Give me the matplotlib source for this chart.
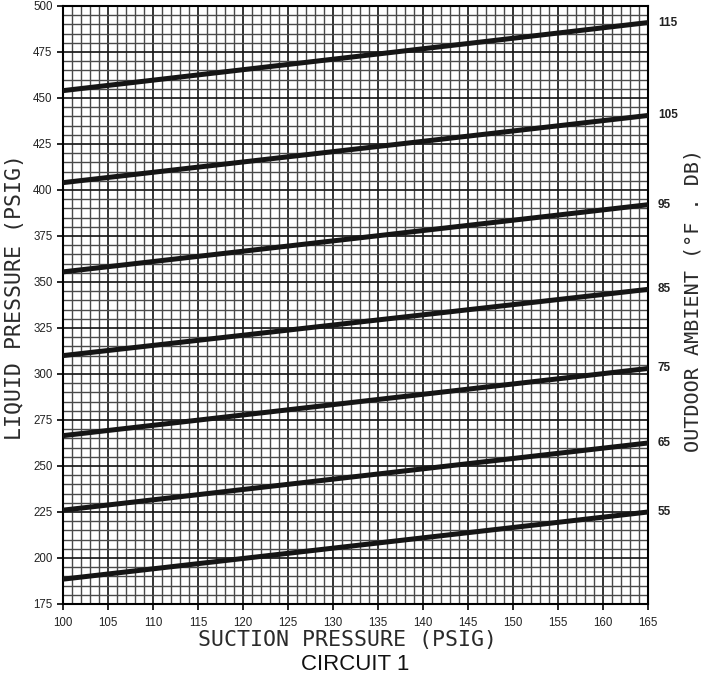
import matplotlib
matplotlib.use("Agg")
import matplotlib.pyplot as plt

suction = [100, 165]
ambient_labels = ["115", "105", "95", "85", "75", "65", "55"]
liquid_start = [454, 404, 355.5, 310, 266.5, 226, 188.5]
liquid_end = [491, 440.5, 392, 346, 303, 262.5, 225]

x_ticks = list(range(100, 166, 5))
y_ticks = list(range(175, 501, 25))

fig = plt.figure(figsize=(7.01, 6.75), dpi=100)
ax = fig.add_axes([63/701, 1-604/675, (648-63)/701, (604-6)/675])
ax.set_xlim(100, 165)
ax.set_ylim(175, 500)

# grid
for xv in range(100, 166):
    major = (xv % 5 == 0)
    ax.axvline(xv, color="#1a1a1a" if major else "#4a4a4a", lw=1.25 if major else 1.0, zorder=1)
for yv in range(175, 501, 5):
    major = (yv % 25 == 0)
    ax.axhline(yv, color="#1a1a1a" if major else "#4a4a4a", lw=1.25 if major else 1.0, zorder=1)

for lab, y0, y1 in zip(ambient_labels, liquid_start, liquid_end):
    ax.plot(suction, [y0, y1], color="#151515", lw=3.6, zorder=3, solid_capstyle="butt")
    ax.text(1.017, y1, lab, transform=ax.get_yaxis_transform(), fontsize=8.5, fontweight="bold",
            family="Liberation Sans", va="center", ha="left", color="#222222")

ax.set_xticks(x_ticks)
ax.set_yticks(y_ticks)
ax.set_xticklabels([str(v) for v in x_ticks], family="Liberation Sans", fontsize=8.3, color="#222222")
ax.set_yticklabels([str(v) for v in y_ticks], family="Liberation Sans", fontsize=8.3, color="#222222")
ax.tick_params(axis="x", direction="out", length=4.5, width=1.2, pad=4.5)
ax.tick_params(axis="y", direction="out", length=4.5, width=1.2, pad=3)
for s in ax.spines.values():
    s.set_linewidth(1.5)

fig.text(348/701, 1-640/675, "SUCTION PRESSURE (PSIG)", family="DejaVu Sans Mono", fontsize=15.5,
         ha="center", va="center", color="#2a2a2a")
fig.text(15/701, 1-297/675, "LIQUID PRESSURE (PSIG)", family="DejaVu Sans Mono", fontsize=15.5,
         rotation=90, ha="center", va="center", color="#2a2a2a")
fig.text(693/701, 1-300/675, "OUTDOOR AMBIENT (°F . DB)", family="DejaVu Sans Mono", fontsize=14.5,
         rotation=90, ha="center", va="center", color="#2a2a2a")
fig.text(355/701, 1-664/675, "CIRCUIT 1", family="Liberation Sans", fontsize=16, ha="center", va="center",
         color="#111111")

fig.savefig("out.png", dpi=100)
